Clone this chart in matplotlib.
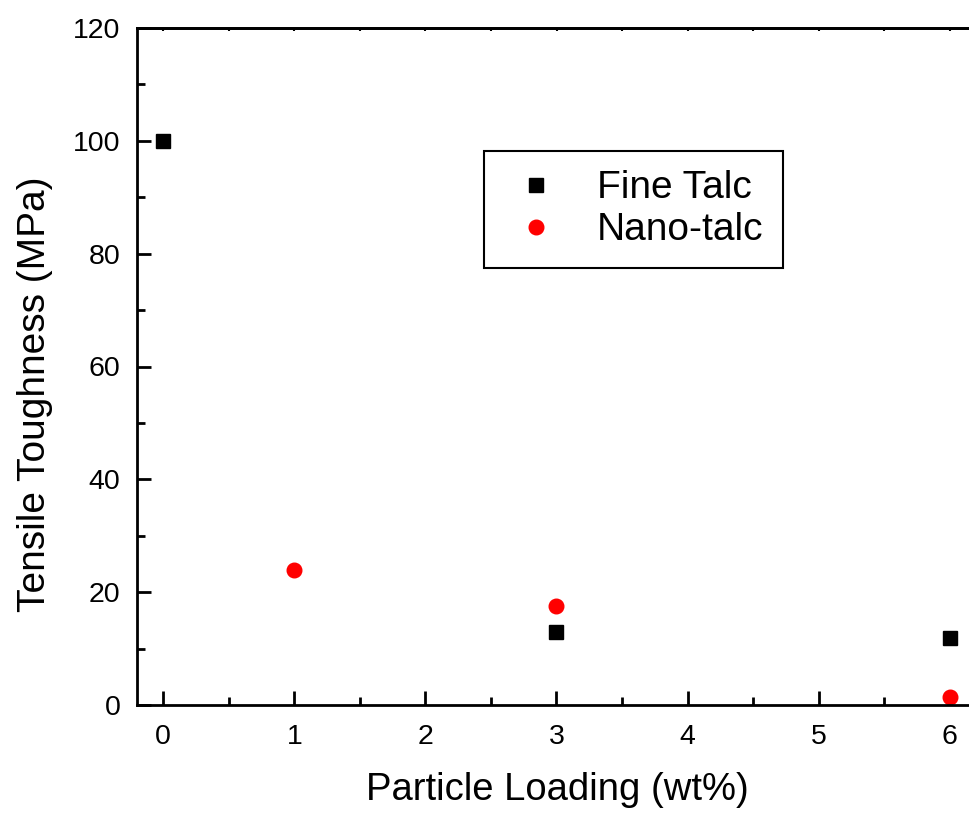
import numpy as np
import matplotlib.pyplot as plt
from matplotlib.ticker import MultipleLocator

# dados
fine_x = [0, 3, 6]
fine_y = [100, 13, 11.8]
nano_x = [1, 3, 6]
nano_y = [24, 17.5, 1.5]

xticks = [0, 1, 2, 3, 4, 5, 6]
yticks = [0, 20, 40, 60, 80, 100, 120]

plt.rcParams['font.family'] = ['Liberation Sans', 'DejaVu Sans']

fig = plt.figure(figsize=(9.7, 8.17), dpi=100)
ax = fig.add_axes([137 / 970, 1 - 705 / 817, 839 / 970, 677 / 817])

ax.plot(fine_x, fine_y, 's', color='black', markersize=9.5, label='Fine Talc', linestyle='none')
ax.plot(nano_x, nano_y, 'o', color='red', markersize=10.5, label='Nano-talc', linestyle='none')

ax.set_xlim(-0.2, 6.2)
ax.set_ylim(0, 120)
ax.set_xticks(xticks)
ax.set_yticks(yticks)
ax.xaxis.set_minor_locator(MultipleLocator(0.5))
ax.yaxis.set_minor_locator(MultipleLocator(10))

for s in ax.spines.values():
    s.set_linewidth(2)

ax.tick_params(which='both', direction='in', width=2, labelsize=20.5, top=False, right=False)
ax.tick_params(which='major', length=10)
ax.tick_params(which='minor', length=5.5)
ax.tick_params(axis='y', which='major', pad=12)
ax.tick_params(axis='x', which='major', pad=14)

# ticks pequenos no topo
top = ax.secondary_xaxis('top')
top.set_xticks(xticks)
top.xaxis.set_minor_locator(MultipleLocator(0.5))
top.tick_params(which='both', direction='in', length=2.5, width=1.5, labeltop=False)
top.spines['top'].set_linewidth(2)

ax.set_xlabel('Particle Loading (wt%)', fontsize=27.5)
ax.set_ylabel('Tensile Toughness (MPa)', fontsize=28)
ax.xaxis.set_label_coords(0.5006, -0.099)
ax.yaxis.set_label_coords(-0.10, 0.4586)

leg = ax.legend(loc='upper left', bbox_to_anchor=(0.4136, 0.8183), borderaxespad=0,
                fontsize=28, fancybox=False, framealpha=1, edgecolor='black',
                handletextpad=0.73, borderpad=0.5, labelspacing=0.15, handlelength=1.67)
leg.get_frame().set_linewidth(1.5)

plt.savefig('out.png', dpi=100)
